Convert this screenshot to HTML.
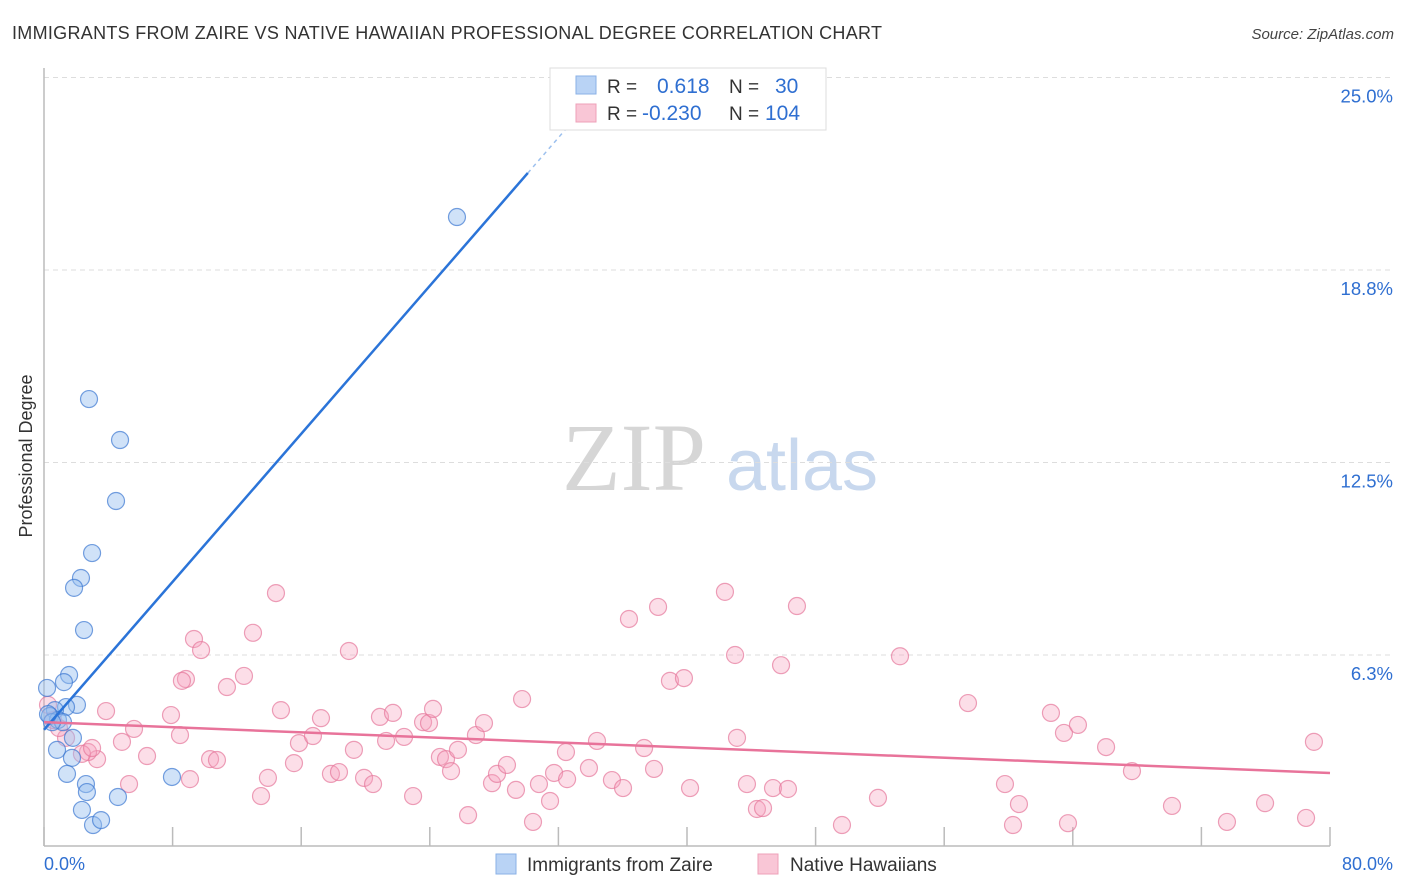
<!DOCTYPE html>
<html><head><meta charset="utf-8"><style>
body{margin:0;background:#fff;font-family:"Liberation Sans",sans-serif;}
#wrap{position:relative;width:1406px;height:892px;overflow:hidden;}
</style></head><body>
<div id="wrap">
<svg id="svg" width="1406" height="892" xmlns="http://www.w3.org/2000/svg">
<text x="12" y="39" font-size="18" fill="#333" textLength="870">IMMIGRANTS FROM ZAIRE VS NATIVE HAWAIIAN PROFESSIONAL DEGREE CORRELATION CHART</text>
<text x="1394" y="39" font-size="15" fill="#444" text-anchor="end" font-style="italic">Source: ZipAtlas.com</text>
<text x="32" y="456" font-size="18" fill="#333" text-anchor="middle" transform="rotate(-90 32 456)">Professional Degree</text>
<g>
<text x="634" y="490" font-size="96" fill="#d6d6d6" font-family="Liberation Serif,serif" text-anchor="middle">ZIP</text>
<text x="802" y="490" font-size="72" fill="#c8d8ee" text-anchor="middle">atlas</text>
</g>
<g id="grid"></g><g id="axes"></g><g id="pts"></g><g id="trend"></g>
<g>
<rect x="550" y="68" width="276" height="62" fill="#fff" stroke="#ddd"/>
<rect x="576" y="76" width="20" height="18" fill="#b9d3f5" stroke="#8ab0e6"/>
<rect x="576" y="104" width="20" height="18" fill="#f9c6d6" stroke="#eea0b8"/>
<text x="607" y="93" font-size="19" fill="#333">R = </text><text x="657" y="93" font-size="21" fill="#2f6fd1">0.618</text>
<text x="729" y="93" font-size="19" fill="#333">N = </text><text x="775" y="93" font-size="21" fill="#2f6fd1">30</text>
<text x="607" y="120" font-size="19" fill="#333">R = </text><text x="642" y="120" font-size="21" fill="#2f6fd1">-0.230</text>
<text x="729" y="120" font-size="19" fill="#333">N = </text><text x="765" y="120" font-size="21" fill="#2f6fd1">104</text>
</g>
<g>
<rect x="496" y="854" width="20" height="20" fill="#b9d3f5" stroke="#8ab0e6"/>
<text x="527" y="871" font-size="19" fill="#333">Immigrants from Zaire</text>
<rect x="758" y="854" width="20" height="20" fill="#f9c6d6" stroke="#eea0b8"/>
<text x="790" y="871" font-size="19" fill="#333">Native Hawaiians</text>
</g>
<text x="44" y="870" font-size="18" fill="#2f6fd1">0.0%</text>
<text x="1393" y="870" font-size="18" fill="#2f6fd1" text-anchor="end">80.0%</text>
</svg>
</div>
<script>
const yTicks=[25,18.75,12.5,6.25];
const yTickLabels=["25.0%","18.8%","12.5%","6.3%"];
const xTicks=[0,8,16,24,32,40,48,56,64,72,80];
const zaireX=[25.69,2.80,4.73,4.48,2.99,2.30,1.87,2.49,1.56,1.24,0.19,2.05,1.37,0.68,0.37,0.87,1.18,0.50,1.80,0.81,1.74,1.43,2.61,2.67,2.36,4.60,3.05,3.55,7.96,0.25];
const zaireY=[20.47,14.56,13.23,11.25,9.56,8.75,8.43,7.06,5.60,5.37,5.18,4.63,4.56,4.46,4.27,4.14,4.07,4.07,3.56,3.17,2.91,2.39,2.06,1.80,1.22,1.64,0.73,0.89,2.29,4.33];
const hawX=[14.43,9.33,13.0,9.77,12.44,8.83,8.58,11.38,18.97,3.86,7.90,5.60,4.85,8.46,6.41,3.30,2.74,2.36,2.99,1.37,0.93,0.56,0.25,10.33,10.76,9.08,5.29,14.74,17.23,15.86,16.73,13.50,13.93,15.55,17.85,18.35,19.91,20.47,19.28,20.90,21.71,21.28,22.40,23.58,23.95,24.20,22.96,24.63,25.01,25.75,26.87,27.37,25.32,26.38,27.87,28.18,28.80,29.36,29.74,30.42,30.79,31.48,31.73,32.54,32.47,33.90,34.40,35.33,36.02,36.39,37.33,37.95,38.20,38.94,39.81,40.19,42.36,42.99,43.11,43.73,44.35,44.73,45.35,46.28,45.85,46.84,49.64,51.88,53.25,57.48,59.78,60.28,60.65,62.64,63.45,63.70,64.32,66.07,67.68,70.17,73.59,75.96,78.51,79.00];
const hawY=[8.26,6.77,6.97,6.41,5.57,5.47,5.41,5.21,6.38,4.43,4.30,3.85,3.43,3.65,2.97,2.87,3.10,3.04,3.23,3.56,3.88,4.14,4.63,2.87,2.84,2.22,2.06,4.46,4.20,3.39,3.62,1.67,2.26,2.74,2.39,2.45,2.26,2.06,3.17,4.24,4.37,3.46,3.59,4.07,4.04,4.50,1.67,2.94,2.87,3.17,3.65,4.04,2.48,1.05,2.09,2.39,2.68,1.87,4.82,0.83,2.06,1.51,2.42,2.22,3.10,2.58,3.46,2.19,1.93,7.42,3.23,2.55,7.81,5.41,5.50,1.93,8.30,6.25,3.56,2.06,1.25,1.28,1.93,1.90,5.92,7.84,0.73,1.61,6.21,4.69,2.06,0.73,1.41,4.37,3.72,0.79,3.98,3.26,2.48,1.35,0.83,1.44,0.96,3.43];
const zaireTrend={x0:0,y0:3.82,x1:30.1,y1:21.9,xd:33.5,yd:23.95};
const hawTrend={x0:0,y0:4.07,x1:80,y1:2.42};
const X=v=>44+v*16.075, Y=v=>847.5-v*30.8;
const NS="http://www.w3.org/2000/svg";
function mk(tag,attrs,parent){const e=document.createElementNS(NS,tag);for(const k in attrs)e.setAttribute(k,attrs[k]);parent.appendChild(e);return e;}
const grid=document.getElementById('grid'),axes=document.getElementById('axes'),pts=document.getElementById('pts'),tr=document.getElementById('trend');
yTicks.forEach((t,i)=>{
 const l=mk('line',{x1:44,x2:1394,y1:Y(t),y2:Y(t),stroke:'#ddd','stroke-dasharray':'5,4'},grid);
 
 
 const tx=mk('text',{x:1393,y:Y(t)+25,'font-size':18.5,fill:'#2f6fd1','text-anchor':'end'},grid);
 tx.textContent=yTickLabels[i];
 
 
});
const ya=mk('line',{x1:44,x2:44,y1:68,y2:846,stroke:'#bbb','stroke-width':1.5},axes);


const xa=mk('line',{x1:44,x2:1330,y1:846,y2:846,stroke:'#bbb','stroke-width':1.5},axes);


xTicks.forEach(t=>{
 const l=mk('line',{x1:X(t),x2:X(t),y1:827,y2:846,stroke:'#bbb','stroke-width':1.5},axes);
 
 
});
hawX.forEach((v,i)=>{
 const c=mk('circle',{cx:X(v),cy:Y(hawY[i]),r:8.5,fill:'rgba(245,160,188,0.35)',stroke:'rgba(230,120,155,0.7)','stroke-width':1.2},pts);
 
 
});
zaireX.forEach((v,i)=>{
 const c=mk('circle',{cx:X(v),cy:Y(zaireY[i]),r:8.5,fill:'rgba(150,190,240,0.45)',stroke:'rgba(60,120,210,0.7)','stroke-width':1.2},pts);
 
 
});
const t1=mk('line',{x1:X(zaireTrend.x0),y1:Y(zaireTrend.y0),x2:X(zaireTrend.x1),y2:Y(zaireTrend.y1),stroke:'#2b74d8','stroke-width':2.5},tr);


const t1d=mk('line',{x1:X(zaireTrend.x1),y1:Y(zaireTrend.y1),x2:X(zaireTrend.xd),y2:Y(zaireTrend.yd),stroke:'#9cc0ee','stroke-width':1.5,'stroke-dasharray':'4,4'},tr);


const t2=mk('line',{x1:X(hawTrend.x0),y1:Y(hawTrend.y0),x2:X(hawTrend.x1),y2:Y(hawTrend.y1),stroke:'#e8739a','stroke-width':2.5},tr);


</script>
</body></html>
